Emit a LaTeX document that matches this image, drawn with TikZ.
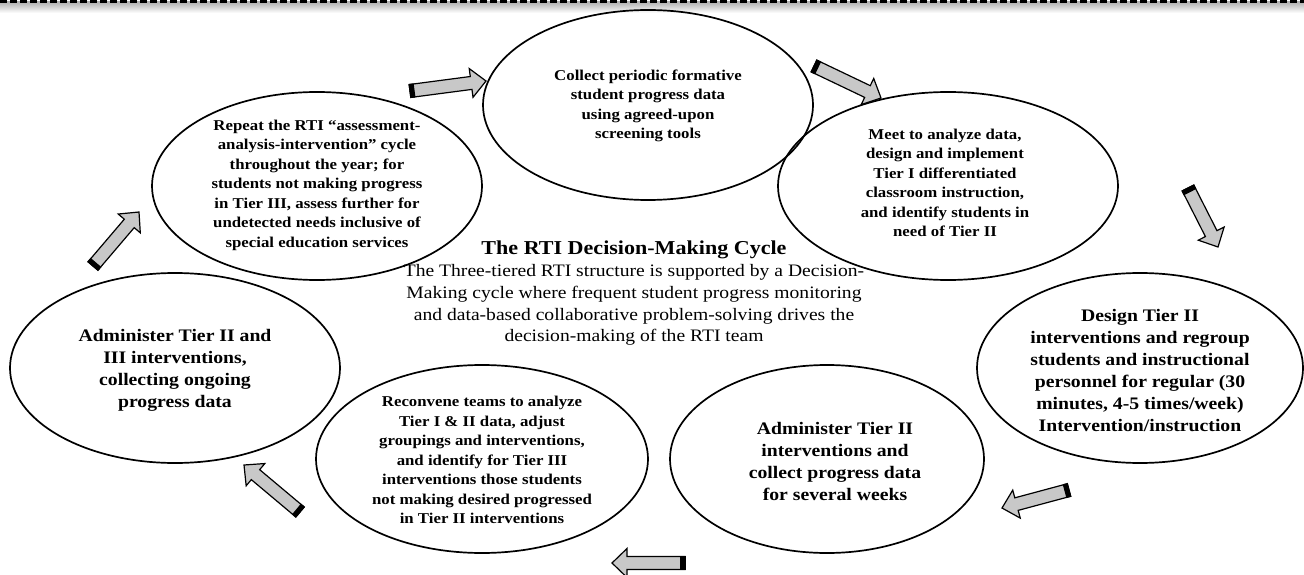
\documentclass[tikz,border=0pt]{standalone}
\usepackage{fontspec}
\setmainfont{Liberation Serif}[FakeStretch=1.12]
\usetikzlibrary{calc,shapes.geometric}
\definecolor{arrgray}{RGB}{200,200,200}
\begin{document}
\begin{tikzpicture}[x=1pt,y=-1pt,
  ell/.style={draw, ellipse, line width=1.7pt, inner sep=0pt},
  small/.style={align=center, font=\bfseries\fontsize{15}{19.5}\selectfont},
  large/.style={align=center, font=\bfseries\fontsize{17.6}{22}\selectfont},
  barrow/.style={draw=black, line width=1.2pt, fill=arrgray, line join=miter, to path={
    let \p1=(\tikztostart), \p2=(\tikztotarget),
        \n1={atan2(\y2-\y1,\x2-\x1)}, \n2={veclen(\x2-\x1,\y2-\y1)-15} in
    ($(\p1)+(\n1+90:6.5pt)$) -- ($(\p1)+(\n1:\n2)+(\n1+90:6.5pt)$)
    -- ($(\p1)+(\n1:\n2)+(\n1+90:14.5pt)$) -- (\p2)
    -- ($(\p1)+(\n1:\n2)+(\n1-90:14.5pt)$) -- ($(\p1)+(\n1:\n2)+(\n1-90:6.5pt)$)
    -- ($(\p1)+(\n1-90:6.5pt)$) -- cycle}},
  btail/.style={draw=black, line width=1.2pt, fill=black, to path={
    let \p1=(\tikztostart), \p2=(\tikztotarget),
        \n1={atan2(\y2-\y1,\x2-\x1)} in
    ($(\p1)+(\n1+90:6.5pt)$) -- ($(\p1)+(\n1:4pt)+(\n1+90:6.5pt)$)
    -- ($(\p1)+(\n1:4pt)+(\n1-90:6.5pt)$) -- ($(\p1)+(\n1-90:6.5pt)$) -- cycle}}
]
\useasboundingbox (0,0) rectangle (1304,575);
% top dashed border with shadow
\fill[top color=black!30, bottom color=white] (0,2) rectangle (1304,13);
\draw[line width=2.6pt, dash pattern=on 7pt off 3pt] (0,1.3) -- (1304,1.3);

% ellipses
\node[ell, minimum width=330pt, minimum height=190pt] (collect) at (648,105) {};
\node[ell, minimum width=330pt, minimum height=188pt] (repeat) at (317,186) {};
\node[ell, minimum width=340pt, minimum height=188pt] (meet) at (948,186) {};
\node[ell, minimum width=326pt, minimum height=190pt] (design) at (1140,368) {};
\node[ell, minimum width=314pt, minimum height=188pt] (admin2) at (827,459) {};
\node[ell, minimum width=332pt, minimum height=188pt] (reconv) at (482,459) {};
\node[ell, minimum width=330pt, minimum height=190pt] (admin23) at (175,368) {};

% texts
\node[small] (tcollect) at (648,106) {Collect periodic formative\\student progress data\\using agreed-upon\\screening tools};
\node[small] (trepeat) at (317,185) {Repeat the RTI “assessment-\\analysis-intervention” cycle\\throughout the year; for\\students not making progress\\in Tier III, assess further for\\undetected needs inclusive of\\special education services};
\node[small] (tmeet) at (945,183) {Meet to analyze data,\\design and implement\\Tier I differentiated\\classroom instruction,\\and identify students in\\need of Tier II};
\node[large] (tdesign) at (1140,370) {Design Tier II\\interventions and regroup\\students and instructional\\personnel for regular (30\\minutes, 4-5 times/week)\\Intervention/instruction};
\node[large] (tadmin2) at (835,461) {Administer Tier II\\interventions and\\collect progress data\\for several weeks};
\node[small] (treconv) at (482,460) {Reconvene teams to analyze\\Tier I \& II data, adjust\\groupings and interventions,\\and identify for Tier III\\interventions those students\\not making desired progressed\\in Tier II interventions};
\node[large] (tadmin23) at (175,370) {Administer Tier II and\\III interventions,\\collecting ongoing\\progress data};

% centre text
\node[align=center, font=\bfseries\fontsize{19.7}{22}\selectfont] (title) at (634,250) {The RTI Decision-Making Cycle};
\node[align=center, font=\fontsize{17.5}{21.7}\selectfont] (body) at (634,305) {The Three-tiered RTI structure is supported by a Decision-\\Making cycle where frequent student progress monitoring\\and data-based collaborative problem-solving drives the\\decision-making of the RTI team};

% block arrows
\coordinate (a1t) at (410,91);   \coordinate (a1h) at (486,81);
\coordinate (a2t) at (814,66);   \coordinate (a2h) at (881,98);
\coordinate (a3t) at (1188,188); \coordinate (a3h) at (1218,247);
\coordinate (a4t) at (1069,490); \coordinate (a4h) at (1002,508);
\coordinate (a5t) at (685,563);  \coordinate (a5h) at (612,563);
\coordinate (a6t) at (300,512);  \coordinate (a6h) at (244,465);
\coordinate (a7t) at (93,266);   \coordinate (a7h) at (139,212);
\foreach \i in {1,...,7}{
  \path[barrow] (a\i t) to (a\i h);
  \path[btail] (a\i t) to (a\i h);
}
\end{tikzpicture}
\end{document}
